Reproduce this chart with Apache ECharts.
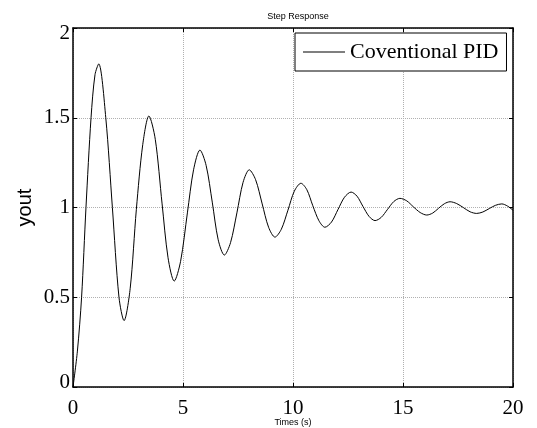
<!DOCTYPE html>
<html>
<head>
<meta charset="utf-8">
<script src="https://cdn.jsdelivr.net/npm/echarts@6/dist/echarts.min.js"></script>
<style>html,body{margin:0;padding:0;background:#fff}#c{width:537px;height:428px}</style>
</head>
<body>
<div id="c"></div>
<script>
var times = [0, 0.2, 0.39, 0.59, 0.82, 1.0, 1.17, 1.49, 1.79, 2.09, 2.32, 2.6, 2.88, 3.17, 3.45,
  3.74, 4.05, 4.32, 4.6, 4.89, 5.2, 5.48, 5.77, 6.05, 6.33, 6.6, 6.88, 7.16, 7.45, 7.73, 8.01,
  8.3, 8.6, 8.89, 9.18, 9.47, 9.77, 10.06, 10.36, 10.63, 10.9, 11.18, 11.45, 11.75, 12.05, 12.34, 12.64,
  12.91, 13.18, 13.46, 13.73, 14.01, 14.3, 14.58, 14.86, 15.17, 15.47, 15.78, 16.08, 16.35, 16.61, 16.88, 17.14,
  17.44, 17.75, 18.05, 18.35, 18.63, 18.92, 19.2, 19.49, 19.75, 20];
var yout = [0, 0.2, 0.5, 1.0, 1.5, 1.74, 1.8, 1.5, 1.0, 0.5, 0.37, 0.55, 0.99, 1.35, 1.51,
  1.38, 1.02, 0.72, 0.59, 0.70, 0.97, 1.21, 1.32, 1.235, 1.03, 0.82, 0.735, 0.804, 0.97, 1.14, 1.21,
  1.155, 1.02, 0.89, 0.835, 0.879, 0.985, 1.091, 1.135, 1.099, 1.01, 0.926, 0.89, 0.919, 0.99, 1.057, 1.086,
  1.063, 1.006, 0.95, 0.927, 0.945, 0.99, 1.033, 1.051, 1.037, 1.004, 0.972, 0.958, 0.969, 0.995, 1.021, 1.032,
  1.022, 0.999, 0.976, 0.967, 0.975, 0.994, 1.012, 1.02, 1.008, 0.985];
var xTicks = [0, 5, 10, 15, 20];
var yTicks = [0, 0.5, 1, 1.5, 2];
var seriesName = 'Coventional PID';

var chart = echarts.init(document.getElementById('c'), null, {renderer: 'canvas'});
var pts = times.map(function (t, i) { return [t, yout[i]]; });
var serif = 'Liberation Serif';
var sans = 'Liberation Sans';
var gridLine = {show: true, lineStyle: {color: '#b0b0b0', type: [1, 1], width: 1}};
var axLine = {show: true, onZero: false, lineStyle: {color: '#000', width: 1.5}};
var tick = {show: true, inside: true, length: 4, lineStyle: {color: '#000', width: 1}};
var lab = {fontFamily: serif, fontSize: 21, color: '#000'};
chart.setOption({
  animation: false,
  backgroundColor: '#fff',
  title: {
    text: 'Step Response', left: 293, top: 7, textAlign: 'center',
    textStyle: {fontFamily: sans, fontSize: 9, fontWeight: 'normal', color: '#000'}
  },
  legend: {
    left: 295, top: 33, orient: 'horizontal',
    borderColor: '#000', borderWidth: 1, backgroundColor: '#fff', borderRadius: 0,
    padding: [8, 8, 8, 8], itemWidth: 42, itemHeight: 1, itemGap: 5,
    textStyle: {fontFamily: serif, fontSize: 22, color: '#000'},
    data: [{name: seriesName, icon: 'rect'}]
  },
  grid: {left: 73, right: 24, top: 28, bottom: 41, containLabel: false, outerBoundsMode: 'none'},
  xAxis: [{
    type: 'value', min: 0, max: 20, interval: 5, position: 'bottom',
    name: 'Times (s)', nameLocation: 'middle', nameGap: 31, nameMoveOverlap: false,
    nameTextStyle: {fontFamily: sans, fontSize: 9, color: '#000'},
    axisLine: axLine, axisTick: tick, splitLine: gridLine,
    axisLabel: {fontFamily: serif, fontSize: 21, color: '#000', margin: 11}
  }, {
    type: 'value', min: 0, max: 20, interval: 5, position: 'top',
    axisLine: axLine, axisTick: tick, splitLine: {show: false}, axisLabel: {show: false}
  }],
  yAxis: [{
    type: 'value', min: 0, max: 2, interval: 0.5, position: 'left',
    name: 'yout', nameLocation: 'middle', nameGap: 38, nameRotate: 90, nameMoveOverlap: false,
    nameTextStyle: {fontFamily: sans, fontSize: 20, color: '#000'},
    axisLine: axLine, axisTick: tick, splitLine: gridLine,
    axisLabel: {
      fontFamily: serif, fontSize: 21, color: '#000', margin: 3,
      formatter: function (v) {
        if (v === 2) return '{hi|2}';
        if (v === 0) return '{lo|0}';
        return String(v);
      },
      rich: {
        hi: Object.assign({padding: [11, 0, 0, 0]}, lab),
        lo: Object.assign({padding: [0, 0, 10, 0]}, lab)
      }
    }
  }, {
    type: 'value', min: 0, max: 2, interval: 0.5, position: 'right',
    axisLine: axLine, axisTick: tick, splitLine: {show: false}, axisLabel: {show: false}
  }],
  series: [{
    name: seriesName, type: 'line', data: pts, symbol: 'none', smooth: 0.3,
    xAxisIndex: 0, yAxisIndex: 0,
    lineStyle: {color: '#000', width: 1}, itemStyle: {color: '#000'}
  }]
});
</script>
</body>
</html>
